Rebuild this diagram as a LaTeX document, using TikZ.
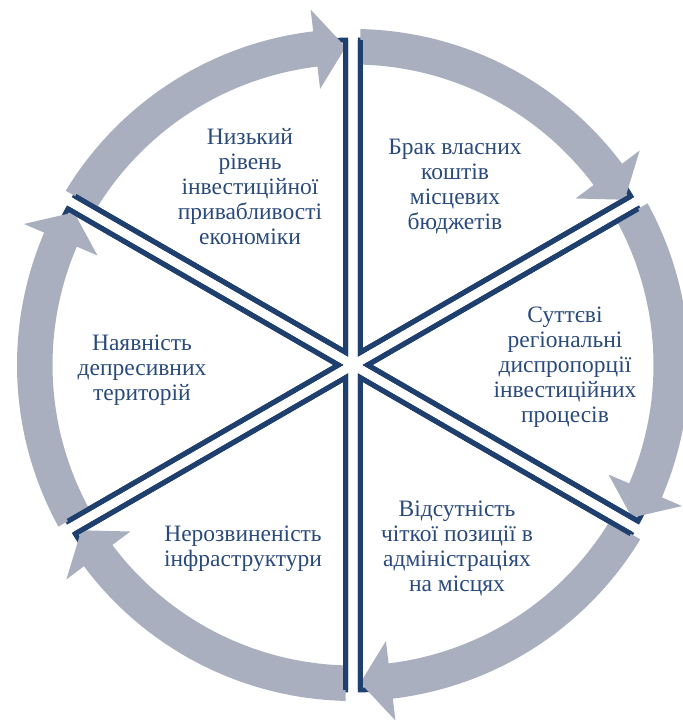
\documentclass[tikz,border=0pt]{standalone}
\usepackage{fontspec}
\setmainfont{Liberation Serif}
\definecolor{lineblue}{HTML}{1F3F6E}
\definecolor{arrowgray}{HTML}{A9AFBE}
\definecolor{txtblue}{HTML}{2A4A7C}
\tikzset{
  sectorline/.style={draw=lineblue, line width=5pt, line join=miter},
  radialline/.style={draw=lineblue, line width=5pt},
  cyclearrow/.style={fill=arrowgray},
  lbl/.style={text=txtblue, font=\fontsize{23.5}{25}\selectfont, align=center, inner sep=0pt}
}
\begin{document}
\begin{tikzpicture}[x=1pt,y=1pt]
\useasboundingbox (0,0) rectangle (682,722);
\coordinate (O) at (353,357);
% sector outlines (outer arcs end up under the arrows)
\foreach \k in {0,...,5} {
  \begin{scope}[shift={(O)}, rotate=-60*\k]
    \draw[sectorline] (7.3,12.64) -- (7.3,324.92)
      arc[start angle=88.713, end angle=31.287, radius=325] -- cycle;
  \end{scope}
}
% gray cycle arrows
\foreach \k in {0,...,5} {
  \begin{scope}[shift={(O)}, rotate=-60*\k]
    \fill[cyclearrow] (7.3,300.41) -- (7.3,335.92)
      arc[start angle=88.755, end angle=36.8, radius=336]
      -- (36.8:358) -- (31.315:318) -- (36.8:278) -- (36.8:300.5)
      arc[start angle=36.8, end angle=88.608, radius=300.5] -- cycle;
  \end{scope}
}
% radial double lines on top
\foreach \k in {0,...,5} {
  \begin{scope}[shift={(O)}, rotate=-60*\k]
    \draw[radialline] (31.287:325) -- (7.3,12.64) -- (7.3,324.92);
  \end{scope}
}
\node[lbl] (t1) at (250,535) {Низький\\рівень\\інвестиційної\\привабливості\\економіки};
\node[lbl] (t2) at (455,535) {Брак власних\\коштів\\місцевих\\бюджетів};
\node[lbl] (t3) at (565,355) {Суттєві\\регіональні\\диспропорції\\інвестиційних\\процесів};
\node[lbl] (t4) at (457,174) {Відсутність\\чіткої позиції в\\адміністраціях\\на місцях};
\node[lbl] (t5) at (243,173) {Нерозвиненість\\інфраструктури};
\node[lbl] (t6) at (142,352) {Наявність\\депресивних\\територій};
\end{tikzpicture}
\end{document}
